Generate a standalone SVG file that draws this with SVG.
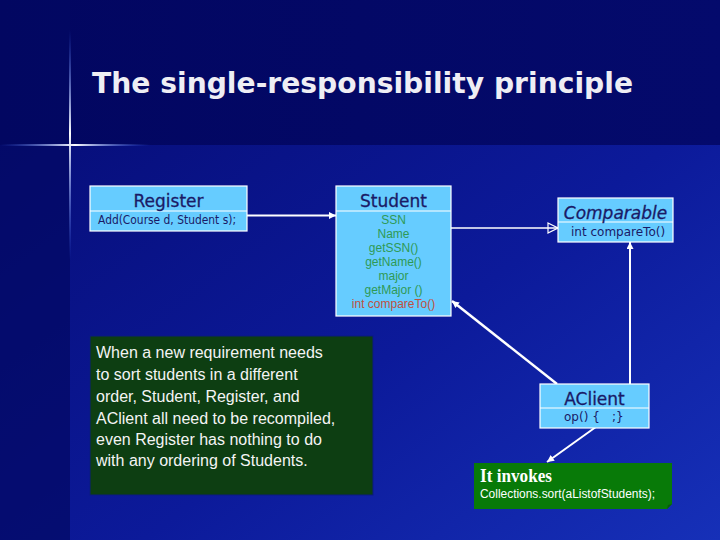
<svg xmlns="http://www.w3.org/2000/svg" width="720" height="540" viewBox="0 0 720 540">
<defs>
<linearGradient id="bg" x1="0" y1="0" x2="1" y2="1">
<stop offset="0" stop-color="#050a70"/>
<stop offset="0.6" stop-color="#0c1a9a"/>
<stop offset="1" stop-color="#1630b8"/>
</linearGradient>
<linearGradient id="top" x1="0" y1="0" x2="1" y2="0">
<stop offset="0" stop-color="#020660"/>
<stop offset="1" stop-color="#040a6c"/>
</linearGradient>
<linearGradient id="hglow" x1="0" y1="0" x2="1" y2="0">
<stop offset="0" stop-color="#3a6aff" stop-opacity="0"/>
<stop offset="0.5" stop-color="#ffffff"/>
<stop offset="1" stop-color="#3a6aff" stop-opacity="0"/>
</linearGradient>
<linearGradient id="vglow" x1="0" y1="0" x2="0" y2="1">
<stop offset="0" stop-color="#3a6aff" stop-opacity="0"/>
<stop offset="0.45" stop-color="#ffffff"/>
<stop offset="1" stop-color="#3a6aff" stop-opacity="0"/>
</linearGradient>
<marker id="fill" viewBox="0 0 10 10" refX="10" refY="5" markerWidth="7" markerHeight="7" markerUnits="userSpaceOnUse" orient="auto">
<path d="M0,0 L10,5 L0,10 z" fill="#ffffff"/>
</marker>
<marker id="hollow" viewBox="0 0 12 12" refX="11" refY="6" markerWidth="12" markerHeight="12" markerUnits="userSpaceOnUse" orient="auto">
<path d="M1,1 L11,6 L1,11 z" fill="none" stroke="#ffffff" stroke-width="1.2"/>
</marker>
<style>
.box{fill:#66ccff;stroke:#ffffff;stroke-width:1.2}
.div{stroke:#ffffff;stroke-width:1.2}
.hd{font-family:"DejaVu Sans","Liberation Sans",sans-serif;font-size:17px;fill:#1a1a66;text-anchor:middle;stroke:#1a1a66;stroke-width:0.3}
.op{font-family:"DejaVu Sans","Liberation Sans",sans-serif;font-size:12px;fill:#1a1a66}
.fld{font-family:"Liberation Sans",sans-serif;font-size:12px;fill:#2e9a55;text-anchor:middle}
.con{stroke:#ffffff;fill:none}
.note{font-family:"Liberation Sans","DejaVu Sans",sans-serif;font-size:16px;fill:#f4f4f4}
</style>
</defs>
<rect width="720" height="540" fill="url(#bg)"/>
<rect x="0" y="0" width="720" height="145" fill="url(#top)"/>
<rect x="0" y="0" width="70" height="540" fill="#030862" opacity="0.7"/>
<rect x="0" y="144" width="150" height="2" fill="url(#hglow)"/>
<rect x="69" y="30" width="2" height="230" fill="url(#vglow)"/>

<text x="92" y="93" font-family="'DejaVu Sans','Liberation Sans',sans-serif" font-weight="bold" font-size="29" fill="#eeeef4" textLength="541" lengthAdjust="spacingAndGlyphs">The single-responsibility principle</text>

<g id="connectors">
<line class="con" x1="247" y1="215.5" x2="336" y2="215.5" stroke-width="2" marker-end="url(#fill)"/>
<line class="con" x1="451" y1="228" x2="558" y2="228" stroke-width="1.3" marker-end="url(#hollow)"/>
<line class="con" x1="630" y1="384" x2="630" y2="242" stroke-width="2" marker-end="url(#fill)"/>
<line class="con" x1="557" y1="384" x2="452" y2="301" stroke-width="2.5" marker-end="url(#fill)"/>
<line class="con" x1="607" y1="419" x2="547" y2="462" stroke-width="2" marker-end="url(#fill)"/>
</g>

<g id="register">
<rect class="box" x="90" y="186" width="157" height="45"/>
<line class="div" x1="90" y1="211" x2="247" y2="211"/>
<text class="hd" x="168.5" y="207">Register</text>
<text class="op" x="98" y="224" textLength="138" lengthAdjust="spacingAndGlyphs">Add(Course d, Student s);</text>
</g>

<g id="student">
<rect class="box" x="336" y="186" width="115" height="130"/>
<line class="div" x1="336" y1="211" x2="451" y2="211"/>
<text class="hd" x="393.5" y="207">Student</text>
<text class="fld" x="393.5" y="224">SSN</text>
<text class="fld" x="393.5" y="238">Name</text>
<text class="fld" x="393.5" y="252">getSSN()</text>
<text class="fld" x="393.5" y="266">getName()</text>
<text class="fld" x="393.5" y="280">major</text>
<text class="fld" x="393.5" y="294">getMajor ()</text>
<text class="fld" x="393.5" y="308" style="fill:#c05040">int compareTo()</text>
</g>

<g id="comparable">
<rect class="box" x="558" y="198" width="115" height="44"/>
<line class="div" x1="558" y1="222" x2="673" y2="222"/>
<text class="hd" x="615.5" y="219" font-style="italic">Comparable</text>
<text class="op" x="571" y="236">int compareTo()</text>
</g>

<g id="aclient">
<rect class="box" x="540" y="384" width="109" height="44"/>
<line class="div" x1="540" y1="408" x2="649" y2="408"/>
<text class="hd" x="594.5" y="405">AClient</text>
<text class="op" x="564" y="421">op() {</text>
<text class="op" x="612" y="421">;}</text>
</g>

<g id="note">
<rect x="90" y="336" width="283" height="159" fill="#0d3e12" stroke="#0a1a80" stroke-width="1"/>
<text class="note" x="96" y="358">When a new requirement needs</text>
<text class="note" x="96" y="380">to sort students in a different</text>
<text class="note" x="96" y="402">order, Student, Register, and</text>
<text class="note" x="96" y="424">AClient all need to be recompiled,</text>
<text class="note" x="96" y="445">even Register has nothing to do</text>
<text class="note" x="96" y="466">with any ordering of Students.</text>
</g>

<g id="invokes">
<path d="M474,463 H672 V504 L667,509 H474 Z" fill="#087a08"/>
<path d="M667,509 L668,505 L672,504 Z" fill="#0a5a0a"/>
<text x="480" y="482" font-family="'Liberation Serif',serif" font-size="18" font-weight="bold" fill="#ffffff" textLength="72" lengthAdjust="spacingAndGlyphs">It invokes</text>
<text x="480" y="498" font-family="'Liberation Sans',sans-serif" font-size="12" fill="#ffffff" textLength="175" lengthAdjust="spacingAndGlyphs">Collections.sort(aListofStudents);</text>
</g>
</svg>
